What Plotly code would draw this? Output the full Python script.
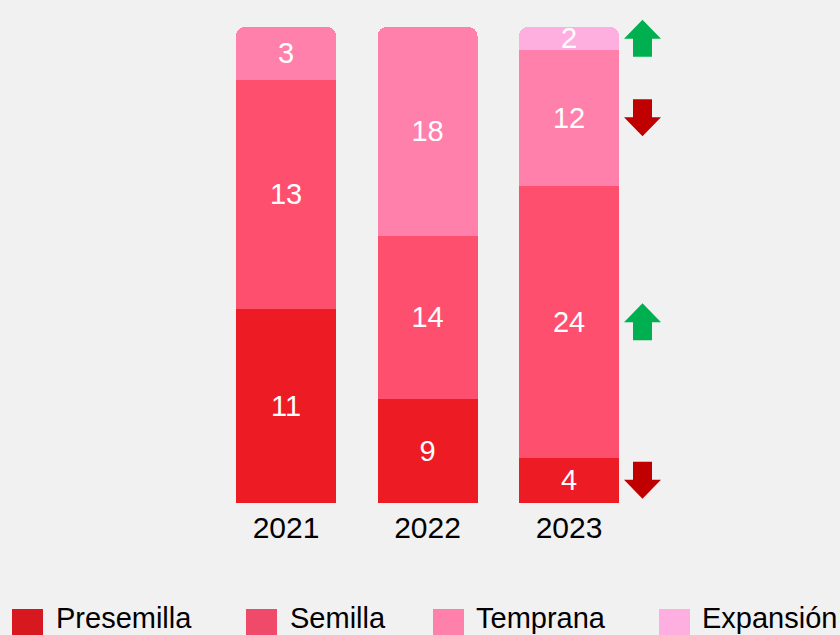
import plotly.graph_objects as go

years = ['2021', '2022', '2023']
stages = ['Presemilla', 'Semilla', 'Temprana', 'Expansión']
presemilla = [11, 9, 4]
semilla = [13, 14, 24]
temprana = [3, 18, 12]
expansion = [None, None, 2]
# tendencia 2023 por etapa
trend_2023 = ['down', 'up', 'down', 'up']

colors = ['#ED1C24', '#FF4F6F', '#FF80AB', '#FFAEE0']
legend_colors = ['#D7191F', '#EF4A6A', '#FF80AB', '#FFAEE0']

W, H = 840, 635
M_T = 27
M_B = H - 503
PX_X = 141.5           # px por categoría
X0_PX = 286            # centro de la primera barra
x_lo = -X0_PX / PX_X
x_hi = (W - X0_PX) / PX_X
plot_h = H - M_T - M_B
PX_Y = plot_h / 100.0  # px por punto porcentual

series = [presemilla, semilla, temprana, expansion]
totals = [sum(v[i] or 0 for v in series) for i in range(len(years))]

fig = go.Figure()
xs = list(range(len(years)))
for name, vals, col in zip(stages, series, colors):
    pct = [None if v is None else v / t * 100 for v, t in zip(vals, totals)]
    fig.add_trace(go.Bar(
        x = xs,
        y = pct,
        name = name,
        customdata = vals,
        texttemplate = '%{customdata}',
        textposition = 'inside',
        insidetextanchor = 'middle',
        textangle = 0,
        constraintext = 'none',
        textfont = dict(color = 'white', size = 29),
        marker = dict(color = col, line = dict(width = 0)),
        width = 100 / PX_X,
        showlegend = False,
        hoverinfo = 'skip'
    ))

# flechas de tendencia junto a la barra 2023 (en coords. paper para que no se recorten)
def xp(x):
    return (x - x_lo) / (x_hi - x_lo)
def yp(y):
    return y / 100.0

xc = 2 + (642.5 - X0_PX - 2 * PX_X) / PX_X
hw = 18.5 / PX_X
sw = 9.5 / PX_X
hh = 18.5 / PX_Y
head = 19 / PX_Y
shapes = []
cum = 0
for vals, tr in zip(series, trend_2023):
    v = vals[2] or 0
    mid = (cum + v / 2) / totals[2] * 100
    cum += v
    if tr == 'up':
        tip, base, end = mid + hh, mid + hh - head, mid - hh
        col = '#00B050'
    else:
        tip, base, end = mid - hh, mid - hh + head, mid + hh
        col = '#C00000'
    pts = [(xc, tip), (xc + hw, base), (xc + sw, base), (xc + sw, end),
           (xc - sw, end), (xc - sw, base), (xc - hw, base)]
    path = 'M' + ' L'.join(f'{xp(a):.5f},{yp(b):.5f}' for a, b in pts) + ' Z'
    shapes.append(dict(type = 'path', xref = 'paper', yref = 'paper', path = path,
                       fillcolor = col, line = dict(width = 0)))

# leyenda manual (cuadros grandes)
leg_sq_x = [12, 246, 433, 659]
leg_txt_x = [57, 291, 477, 703]
annotations = []
def py(p):
    return (H - M_B - p) / plot_h
def px(p):
    return p / W
for name, col, sx, tx in zip(stages, legend_colors, leg_sq_x, leg_txt_x):
    shapes.append(dict(type = 'rect', xref = 'paper', yref = 'paper',
                       x0 = px(sx), x1 = px(sx + 31), y0 = py(642), y1 = py(609),
                       fillcolor = col, line = dict(width = 0)))
    annotations.append(dict(text = name, xref = 'paper', yref = 'paper',
                            x = px(tx) - 0.003, y = py(618), xanchor = 'left', yanchor = 'middle',
                            showarrow = False, font = dict(size = 29, color = 'black')))

fig.update_layout(
    width = W,
    height = H,
    barmode = 'stack',
    barcornerradius = 9,
    uniformtext = dict(minsize = 29, mode = 'show'),
    margin = dict(l = 0, r = 0, t = M_T, b = M_B),
    plot_bgcolor = '#F1F1F1',
    paper_bgcolor = '#F1F1F1',
    font = dict(family = 'Liberation Sans, Arial, sans-serif', color = 'black'),
    shapes = shapes,
    annotations = annotations,
    showlegend = False
)
fig.update_xaxes(range = [x_lo, x_hi], tickvals = xs, ticktext = years,
                 tickfont = dict(size = 30, color = 'black'), showgrid = False,
                 zeroline = False, showline = False, ticks = '', ticklabelstandoff = 4)
fig.update_yaxes(range = [0, 100], visible = False)

fig.write_html('out.html',
               config = {'displayModeBar': False},
               post_script = "document.body.style.margin='0';"
                             "document.body.style.overflow='hidden';"
                             "document.body.style.background='#F1F1F1';")
